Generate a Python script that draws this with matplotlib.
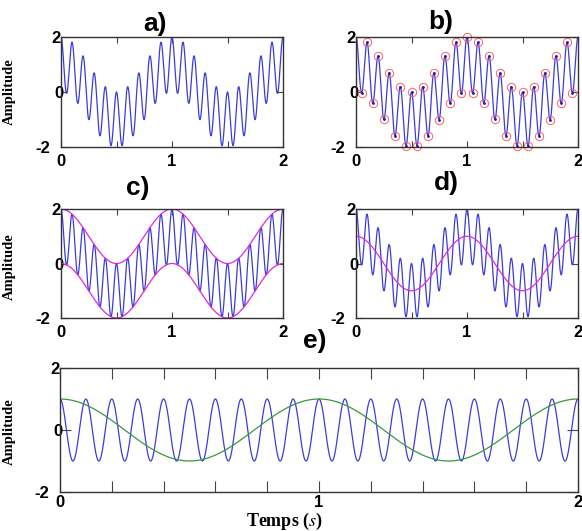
import numpy as np
import matplotlib
matplotlib.use("Agg")
import matplotlib.pyplot as plt
import matplotlib.transforms as mtransforms
from matplotlib.ticker import FixedLocator, NullFormatter

# ---- data (signal parameters) ----
t_start, t_end = 0.0, 2.0
f_low = 1.0          # slow component (Hz)
f_high = 10.0        # fast component (Hz)
amp_low = 1.0
amp_high = 1.0
sample_rate = 20.0   # red circles in b)
xticks_major = [0, 1, 2]
yticks = [-2, 0, 2]
panel_labels = ["a)", "b)", "c)", "d)", "e)"]

t = np.linspace(t_start, t_end, 4001)
slow = amp_low * np.cos(2 * np.pi * f_low * t)
fast = amp_high * np.cos(2 * np.pi * f_high * t)
sig = slow + fast
ts = np.arange(1, int(t_end * sample_rate)) / sample_rate
sig_s = amp_low * np.cos(2 * np.pi * f_low * ts) + amp_high * np.cos(2 * np.pi * f_high * ts)

BLUE = "#3c3cdc"
MAG = "#e028e0"
GREEN = "#3a983a"
RED = "#ff6060"
SPINE = "#333333"

W, H = 582, 531
fig = plt.figure(figsize=(W / 100, H / 100), dpi=100)

def ax_px(l, t_, r, b):
    return fig.add_axes([l / W, 1 - b / H, (r - l) / W, (b - t_) / H])

tickfont = dict(family="Liberation Sans", weight="bold", size=12)
# horizontal nudges (px) of the y tick labels, as in the reference
ylab_dx = {-2: -9, 0: 4, 2: 1.5}

def style(ax, minor_step, ticklen, xpad):
    ax.set_xlim(t_start, t_end)
    ax.set_ylim(-2, 2)
    ax.set_xticks(xticks_major)
    ax.set_xticklabels([str(v) for v in xticks_major], fontdict=tickfont)
    ax.set_yticks(yticks)
    ax.set_yticklabels([str(v) for v in yticks], fontdict=tickfont)
    minors = [v for v in np.arange(t_start, t_end + 1e-9, minor_step) if v not in xticks_major]
    ax.xaxis.set_minor_locator(FixedLocator(minors))
    ax.xaxis.set_minor_formatter(NullFormatter())
    ax.tick_params(axis="both", which="both", direction="in", top=True, right=True,
                   length=ticklen, width=0.8, color="#444444")
    ax.tick_params(axis="x", which="major", pad=xpad)
    ax.tick_params(axis="y", which="major", pad=1)
    for v, lab in zip(yticks, ax.get_yticklabels()):
        off = mtransforms.ScaledTranslation(ylab_dx[v] / 100, 0, fig.dpi_scale_trans)
        lab.set_transform(lab.get_transform() + off)
    for s in ax.spines.values():
        s.set_color(SPINE)
        s.set_linewidth(1.0)

lw = 0.9

# a)
ax_a = ax_px(61, 37, 283, 147)
ax_a.plot(t, sig, color=BLUE, lw=lw)
style(ax_a, 0.5, 4, 5)

# b)
ax_b = ax_px(356, 37, 578, 147)
ax_b.plot(t, sig, color=BLUE, lw=lw)
ax_b.plot(ts, sig_s, "o", mfc="none", mec=RED, ms=6, mew=0.7, clip_on=False)
ax_b.plot(ts, sig_s, ".", color="#2020a0", ms=2)
style(ax_b, 0.5, 4, 5)

# c)
ax_c = ax_px(61, 209, 283, 318)
ax_c.plot(t, sig, color=BLUE, lw=lw)
ax_c.plot(t, slow + amp_high, color=MAG, lw=lw)
ax_c.plot(t, slow - amp_high, color=MAG, lw=lw)
style(ax_c, 0.5, 4, 5)

# d)
ax_d = ax_px(356, 209, 578, 318)
ax_d.plot(t, sig, color=BLUE, lw=lw)
ax_d.plot(t, slow, color=MAG, lw=lw)
style(ax_d, 0.5, 4, 5)

# e)
ax_e = ax_px(60, 368, 578, 492)
ax_e.plot(t, fast, color=BLUE, lw=lw)
ax_e.plot(t, slow, color=GREEN, lw=lw)
style(ax_e, 0.2, 8, 2.5)

# panel titles
title_font = dict(family="Liberation Sans", weight="bold", size=19)
for lab, (x, y) in zip(panel_labels, [(155, 24), (441, 22), (138, 188), (446, 183), (315, 341)]):
    fig.text(x / W, 1 - y / H, lab, ha="center", va="center", **title_font)

# y labels
lab_font = dict(family="Liberation Serif", weight="bold", size=10.5)
for y in [92, 267, 432]:
    fig.text(9 / W, 1 - y / H, "Amplitude", rotation=90, ha="center", va="center", **lab_font)

fig.text(284 / W, 1 - 521 / H, r"Temps ($\mathbf{\it{s}}$)", ha="center", va="center",
         family="Liberation Serif", weight="bold", size=13, math_fontfamily="stix")

fig.savefig("out.png", dpi=100)
